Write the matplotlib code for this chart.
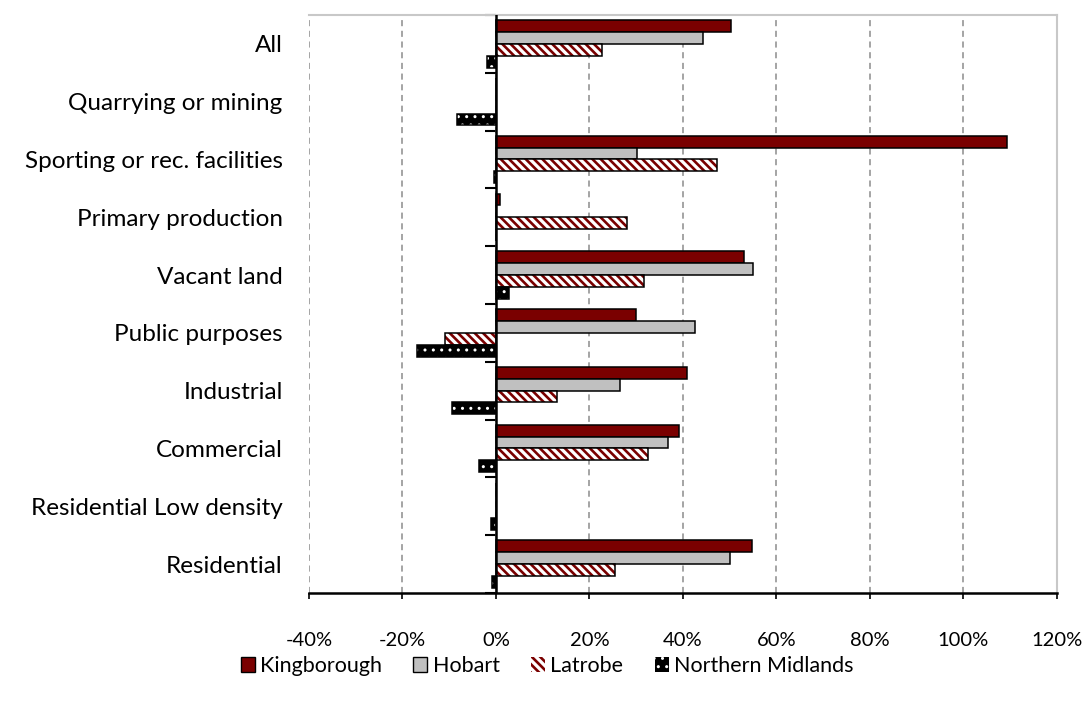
import numpy as np
import matplotlib.pyplot as plt
from matplotlib.patches import Patch
from matplotlib.ticker import PercentFormatter

plt.rcParams['font.family'] = ['Lato', 'DejaVu Sans']
plt.rcParams['axes.unicode_minus'] = False
plt.rcParams['hatch.linewidth'] = 1.0

# Change in land value by land use, per municipality (%)
categories = ['All', 'Quarrying or mining', 'Sporting or rec. facilities',
              'Primary production', 'Vacant land', 'Public purposes',
              'Industrial', 'Commercial', 'Residential Low density',
              'Residential']
kingborough = [50.4, 0.0, 109.4, 0.8, 53.0, 29.9, 40.8, 39.2, 0.0, 54.8]
hobart = [44.4, 0.0, 30.2, 0.0, 55.0, 42.6, 26.5, 36.9, 0.0, 50.1]
latrobe = [22.7, 0.0, 47.4, 28.0, 31.7, -10.8, 13.1, 32.5, 0.0, 25.5]
northern_midlands = [-1.9, -8.3, -0.5, 0.0, 2.7, -16.8, -9.3, -3.7, -1.1, -0.8]

series_names = ['Kingborough', 'Hobart', 'Latrobe', 'Northern Midlands']
DARK_RED = '#7a0000'
GREY = '#c0c0c0'
STRIPES = '\\' * 4
STRIPE_LW = 1.9
DOTS = '..'


def thick_hatch(patch, lw):
    # hatch line width is read when drawing, so wrap draw()
    if hasattr(patch, 'set_hatch_linewidth'):
        patch.set_hatch_linewidth(lw)
    draw = patch.draw

    def draw_thick(renderer):
        with plt.rc_context({'hatch.linewidth': lw}):
            draw(renderer)
    patch.draw = draw_thick


fig = plt.figure(figsize=(10.9, 7.05), dpi=100)
ax = fig.add_axes([0.2835, 0.159, 0.686, 0.8197])

y = np.arange(len(categories))
h = 0.205
offsets = [-1.5 * h, -0.5 * h, 0.5 * h, 1.5 * h]

ax.barh(y + offsets[0], kingborough, h, color=DARK_RED, edgecolor='black',
        linewidth=1.1, zorder=3)
ax.barh(y + offsets[1], hobart, h, color=GREY, edgecolor='black',
        linewidth=1.1, zorder=3)

# hatched series: hatch fill first, black outline on top
stripes = ax.barh(y + offsets[2], latrobe, h, color='white', edgecolor=DARK_RED,
                  hatch=STRIPES, linewidth=0, zorder=3)
for b in stripes:
    thick_hatch(b, STRIPE_LW)
ax.barh(y + offsets[2], latrobe, h, color='none', edgecolor='black',
        linewidth=1.1, zorder=4)
ax.barh(y + offsets[3], northern_midlands, h, color='black', edgecolor='white',
        hatch=DOTS, linewidth=0, zorder=3)
ax.barh(y + offsets[3], northern_midlands, h, color='none', edgecolor='black',
        linewidth=1.1, zorder=4)

ax.set_xlim(-40, 120)
ax.set_ylim(len(categories) - 0.5, -0.5)
ax.set_xticks(np.arange(-40, 121, 20))
ax.xaxis.set_major_formatter(PercentFormatter(decimals=0))
ax.tick_params(axis='x', direction='out', length=4, width=1.2, pad=24,
               labelsize=14.5, colors='black')

ax.set_yticks(y)
ax.set_yticklabels(categories)
ax.tick_params(axis='y', length=0, pad=19, labelsize=17.5)

ax.grid(axis='x', color='#8c8c8c', linestyle=(0, (4, 3)), linewidth=1.1, zorder=0)
ax.spines['left'].set_visible(False)
for side in ['top', 'right']:
    ax.spines[side].set_color('#c8c8c8')
    ax.spines[side].set_linewidth(1.5)
ax.spines['bottom'].set_linewidth(1.8)

# category axis crossing at 0%
ax.axvline(0, color='black', linewidth=1.8, zorder=5)
zero_axis = ax.secondary_yaxis(40 / 160)
zero_axis.set_yticks(np.arange(-0.5, len(categories), 1.0))
zero_axis.set_yticklabels([])
zero_axis.tick_params(length=8, width=1.5, direction='out')
zero_axis.spines['left'].set_visible(False)

handles = [
    Patch(facecolor=DARK_RED, edgecolor='black', linewidth=1.0),
    Patch(facecolor=GREY, edgecolor='black', linewidth=1.0),
    Patch(facecolor='white', edgecolor=DARK_RED, hatch=STRIPES, linewidth=0),
    Patch(facecolor='black', edgecolor='white', hatch=DOTS, linewidth=0),
]
leg = fig.legend(handles, series_names, loc='center', bbox_to_anchor=(0.502, 0.055),
                 ncol=4, frameon=False, fontsize=15.5, handlelength=0.65,
                 handleheight=0.65, handletextpad=0.25, columnspacing=1.45)
thick_hatch(leg.get_patches()[2], STRIPE_LW)

fig.savefig('out.png', dpi=100)
